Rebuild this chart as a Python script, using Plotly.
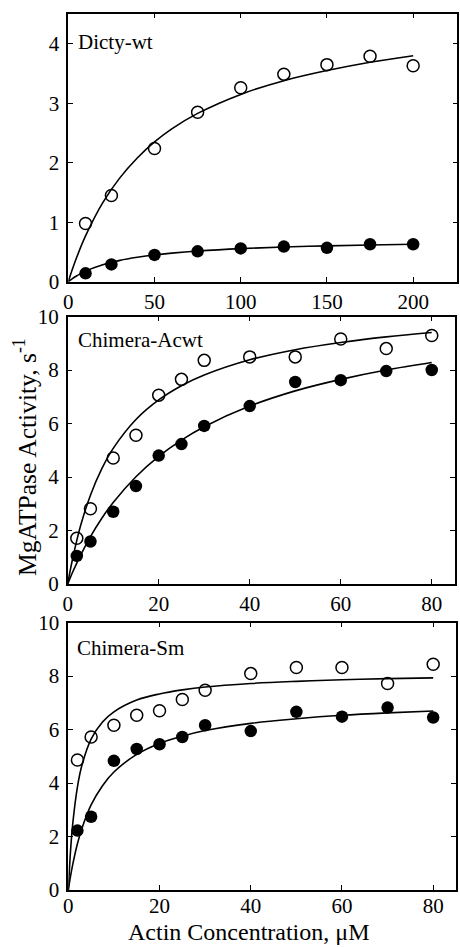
import plotly.graph_objects as go

# ---------------- data ----------------
# Panel 1: Dicty-wt
p1_x = [10, 25, 50, 75, 100, 125, 150, 175, 200]
p1_open = [0.98, 1.45, 2.24, 2.85, 3.26, 3.49, 3.65, 3.79, 3.63]
p1_closed = [0.14, 0.29, 0.45, 0.51, 0.56, 0.59, 0.57, 0.63, 0.63]
p1_fit_x = [0, 2, 5, 10, 20, 30, 40, 50, 60, 75, 100, 125, 150, 175, 200]
p1_fit_open = [0, 0.18, 0.42, 0.77, 1.33, 1.75, 2.08, 2.35, 2.57, 2.83, 3.15, 3.38, 3.55, 3.69, 3.80]
p1_fit_closed = [0, 0.044, 0.10, 0.178, 0.286, 0.359, 0.41, 0.45, 0.48, 0.515, 0.556, 0.583, 0.603, 0.618, 0.63]

# Panel 2: Chimera-Acwt
p2_x = [2, 5, 10, 15, 20, 25, 30, 40, 50, 60, 70, 80]
p2_open = [1.71, 2.81, 4.71, 5.56, 7.06, 7.65, 8.36, 8.49, 8.49, 9.16, 8.80, 9.29]
p2_closed = [1.05, 1.59, 2.70, 3.66, 4.80, 5.23, 5.91, 6.65, 7.55, 7.62, 7.96, 8.00]
fit_x = [0, 0.5, 1, 2, 3, 5, 7.5, 10, 15, 20, 25, 30, 40, 50, 60, 70, 80]
p2_fit_open = [0, 0.46, 0.88, 1.63, 2.28, 3.32, 4.31, 5.07, 6.15, 6.88, 7.41, 7.81, 8.38, 8.76, 9.03, 9.24, 9.40]
p2_fit_closed = [0, 0.21, 0.41, 0.78, 1.13, 1.77, 2.46, 3.05, 4.01, 4.77, 5.38, 5.88, 6.65, 7.22, 7.65, 8.00, 8.28]

# Panel 3: Chimera-Sm
p3_x = [2, 5, 10, 15, 20, 25, 30, 40, 50, 60, 70, 80]
p3_open = [4.86, 5.72, 6.16, 6.53, 6.70, 7.12, 7.47, 8.09, 8.32, 8.32, 7.72, 8.44]
p3_closed = [2.22, 2.74, 4.83, 5.27, 5.45, 5.72, 6.16, 5.94, 6.66, 6.48, 6.82, 6.45]
p3_fit_open = [0, 1.49, 2.52, 3.85, 4.67, 5.64, 6.28, 6.66, 7.10, 7.33, 7.48, 7.59, 7.72, 7.80, 7.86, 7.90, 7.93]
p3_fit_closed = [0, 0.53, 0.98, 1.73, 2.31, 3.18, 3.90, 4.41, 5.07, 5.48, 5.75, 5.96, 6.23, 6.40, 6.53, 6.62, 6.69]

panel_labels = ["Dicty-wt", "Chimera-Acwt", "Chimera-Sm"]
x_title = "Actin Concentration, μM"
y_title = "MgATPase Activity, s<sup>-1</sup>"

# ---------------- layout helpers ----------------
W, H = 460, 947
FONT = "Liberation Serif"


def px(x):
    return x / W


def py(y):
    return 1 - y / H


panels = [
    dict(xd=(68.3, 457.3), yd=(13.5, 281.7), xr=[0, 225.6], yr=[0, 4.51], dx=50, dy=1,
         x=p1_x, o=p1_open, c=p1_closed, fx=p1_fit_x, fo=p1_fit_open, fc=p1_fit_closed,
         label_pos=(76, 42), xstand=0),
    dict(xd=(67.7, 454.5), yd=(316.5, 584.0), xr=[0, 85], yr=[0, 10], dx=20, dy=2,
         x=p2_x, o=p2_open, c=p2_closed, fx=fit_x, fo=p2_fit_open, fc=p2_fit_closed,
         label_pos=(76, 340), xstand=0),
    dict(xd=(68.3, 456.0), yd=(622.5, 890.0), xr=[0, 85], yr=[0, 10], dx=20, dy=2,
         x=p3_x, o=p3_open, c=p3_closed, fx=fit_x, fo=p3_fit_open, fc=p3_fit_closed,
         label_pos=(75, 648), xstand=-4),
]

fig = go.Figure()
layout = dict(
    template="none",
    width=W, height=H, autosize=False,
    margin=dict(l=0, r=0, t=0, b=0, pad=0),
    paper_bgcolor="white", plot_bgcolor="white",
    showlegend=False,
    font=dict(family=FONT, color="black", size=21),
)
annotations = []

for i, p in enumerate(panels):
    n = "" if i == 0 else str(i + 1)
    xa, ya = "x" + n, "y" + n
    line_kw = dict(color="black", width=1.6)
    fig.add_trace(go.Scatter(x=p["fx"], y=p["fo"], mode="lines", line=dict(line_kw, shape="spline"),
                             xaxis=xa, yaxis=ya, hoverinfo="skip"))
    fig.add_trace(go.Scatter(x=p["fx"], y=p["fc"], mode="lines", line=dict(line_kw, shape="spline"),
                             xaxis=xa, yaxis=ya, hoverinfo="skip"))
    fig.add_trace(go.Scatter(x=p["x"], y=p["o"], mode="markers", xaxis=xa, yaxis=ya,
                             marker=dict(symbol="circle-open", size=12, color="black",
                                         line=dict(color="black", width=1.5))))
    fig.add_trace(go.Scatter(x=p["x"], y=p["c"], mode="markers", xaxis=xa, yaxis=ya,
                             marker=dict(symbol="circle", size=12.5, color="black",
                                         line=dict(color="black", width=0))))
    ax_common = dict(showline=True, linecolor="black", linewidth=1.5, mirror="ticks",
                     ticks="inside", ticklen=5, tickwidth=1, tickcolor="black",
                     showgrid=False, zeroline=False, automargin=False,
                     tickfont=dict(family=FONT, size=21, color="black"))
    layout["xaxis" + n] = dict(ax_common, domain=[px(p["xd"][0]), px(p["xd"][1])],
                               range=p["xr"], dtick=p["dx"], tick0=0, anchor=ya,
                               ticklabelstandoff=p["xstand"])
    layout["yaxis" + n] = dict(ax_common, domain=[py(p["yd"][1]), py(p["yd"][0])],
                               range=p["yr"], dtick=p["dy"], tick0=0, anchor=xa,
                               ticklabelstandoff=3)
    lx, ly = p["label_pos"]
    annotations.append(dict(text=panel_labels[i], x=px(lx), y=py(ly), xref="paper", yref="paper",
                            xanchor="left", yanchor="middle", showarrow=False,
                            font=dict(family=FONT, size=21, color="black")))

annotations.append(dict(text=x_title, x=px(249), y=py(932), xref="paper", yref="paper",
                        xanchor="center", yanchor="middle", showarrow=False,
                        font=dict(family=FONT, size=24, color="black")))
annotations.append(dict(text=y_title, x=px(25), y=py(457), xref="paper", yref="paper",
                        xanchor="center", yanchor="middle", showarrow=False, textangle=-90,
                        font=dict(family=FONT, size=25.5, color="black")))
layout["annotations"] = annotations

fig.update_layout(**layout)
fig.write_html("out.html", config={"displayModeBar": False},
               post_script="document.body.style.margin='0';")
